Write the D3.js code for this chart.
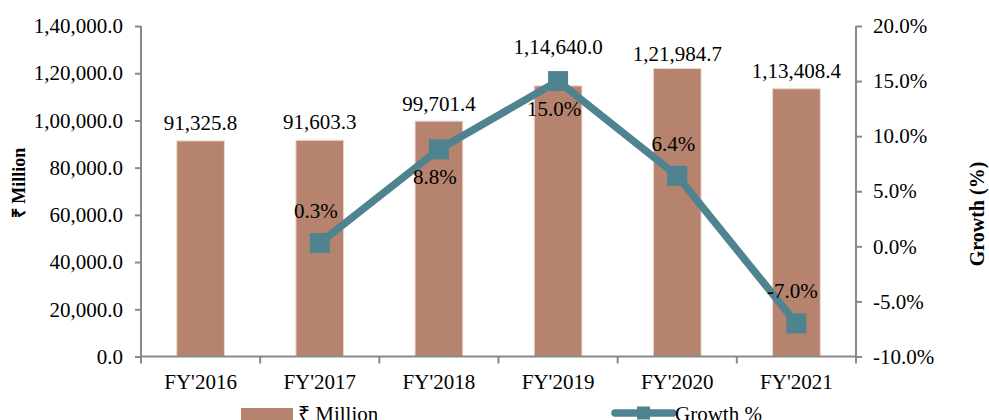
<!DOCTYPE html>
<html>
<head>
    <meta charset="utf-8" />
    <title>Revenue and Growth</title>
    <style>
        html, body {
            margin: 0;
            padding: 0;
            background: #fff;
        }
        svg text {
            font-family: "Liberation Serif", "Times New Roman", serif;
            fill: #000;
        }
    </style>
</head>
<body>
    <svg width="989" height="420"></svg>
    <script src="https://d3js.org/d3.v7.min.js"></script>
    <script>
        // data
        var years = ["FY'2016", "FY'2017", "FY'2018", "FY'2019", "FY'2020", "FY'2021"];
        var millions = [91325.8, 91603.3, 99701.4, 114640.0, 121984.7, 113408.4];
        var growth = [null, 0.3, 8.8, 15.0, 6.4, -7.0];
        var leftTicks = [0, 20000, 40000, 60000, 80000, 100000, 120000, 140000];
        var rightTicks = [-10, -5, 0, 5, 10, 15, 20];

        // label placement (px gap above bar top, side of growth marker)
        var barLabelGap = [11, 11, 10, 32, 8, 11];
        var growthLabelSide = ["", "above", "below", "below", "above", "above"];

        var barColor = "#b5836e",
            lineColor = "#4f8390",
            axisColor = "#898989";

        var svg = d3.select("svg");

        var x = d3.scaleBand().domain(years).range([141, 856]);
        var yLeft = d3.scaleLinear().domain([0, 140000]).range([356.5, 26]);
        var yRight = d3.scaleLinear().domain([-10, 20]).range([356.5, 26]);

        // indian style grouping: 1,40,000.0
        function inr(v) {
            var s = v.toFixed(1), parts = s.split("."), n = parts[0];
            if (n.length > 3) {
                var last = n.slice(-3), rest = n.slice(0, -3);
                rest = rest.replace(/\B(?=(\d{2})+(?!\d))/g, ",");
                n = rest + "," + last;
            }
            return n + "." + parts[1];
        }

        // bars
        var bw = x.bandwidth() * 0.4;
        svg.append("g").selectAll("rect")
            .data(millions)
            .enter().append("rect")
            .attr("x", function (d, i) { return x(years[i]) + (x.bandwidth() - bw) / 2; })
            .attr("y", function (d) { return yLeft(d); })
            .attr("width", bw)
            .attr("height", function (d) { return yLeft(0) - yLeft(d); })
            .attr("fill", barColor)
            .attr("stroke", "#ecd6cd")
            .attr("stroke-width", 1);

        svg.append("g").selectAll("text")
            .data(millions)
            .enter().append("text")
            .attr("x", function (d, i) { return x(years[i]) + x.bandwidth() / 2; })
            .attr("y", function (d, i) { return yLeft(d) - barLabelGap[i]; })
            .attr("text-anchor", "middle")
            .style("font-size", "21px")
            .text(function (d) { return inr(d); });

        // axes
        var leftAxis = d3.axisLeft(yLeft).tickValues(leftTicks).tickSize(6).tickPadding(12)
            .tickFormat(inr);
        var gl = svg.append("g").attr("transform", "translate(141,0)").call(leftAxis);

        var rightAxis = d3.axisRight(yRight).tickValues(rightTicks).tickSize(6).tickPadding(11)
            .tickFormat(function (d) { return d.toFixed(1) + "%"; });
        var gr = svg.append("g").attr("transform", "translate(856,0)").call(rightAxis);

        var bottomAxis = d3.axisBottom(x).tickSize(0).tickPadding(18);
        var gb = svg.append("g").attr("transform", "translate(0,356.5)").call(bottomAxis);

        // category separators on the bottom axis
        gb.selectAll(".sep")
            .data(years.concat([null]))
            .enter().append("line")
            .attr("class", "sep")
            .attr("x1", function (d) { return d ? x(d) : x.range()[1]; })
            .attr("x2", function (d) { return d ? x(d) : x.range()[1]; })
            .attr("y1", 0).attr("y2", 7)
            .attr("stroke", axisColor).attr("stroke-width", 2);

        [gl, gr, gb].forEach(function (g) {
            g.selectAll(".domain").attr("stroke", axisColor).attr("stroke-width", 2);
            g.selectAll(".tick line").attr("stroke", axisColor).attr("stroke-width", 2);
            g.selectAll("text")
                .style("font-family", "'Liberation Serif', 'Times New Roman', serif")
                .style("font-size", "21px")
                .attr("fill", "#000");
        });
        gl.select(".domain").attr("d", "M0," + yLeft.range()[1] + "V" + yLeft.range()[0]);
        gr.select(".domain").attr("d", "M0," + yRight.range()[1] + "V" + yRight.range()[0]);
        gb.select(".domain").attr("d", "M" + x.range()[0] + ",0H" + x.range()[1]);

        // axis titles
        svg.append("text")
            .attr("transform", "translate(25,183) rotate(-90)")
            .attr("text-anchor", "middle")
            .style("font-size", "18px")
            .style("font-weight", "bold")
            .text("₹ Million");

        svg.append("text")
            .attr("transform", "translate(984,214) rotate(-90)")
            .attr("text-anchor", "middle")
            .style("font-size", "20px")
            .style("font-weight", "bold")
            .text("Growth (%)");

        // growth line
        var pts = growth.map(function (g, i) { return { year: years[i], g: g, side: growthLabelSide[i] }; })
            .filter(function (d) { return d.g !== null; });

        var line = d3.line()
            .x(function (d) { return x(d.year) + x.bandwidth() / 2; })
            .y(function (d) { return yRight(d.g); });

        svg.append("path")
            .datum(pts)
            .attr("d", line)
            .attr("fill", "none")
            .attr("stroke", lineColor)
            .attr("stroke-width", 7.5)
            .attr("stroke-linejoin", "round");

        svg.append("g").selectAll("rect")
            .data(pts)
            .enter().append("rect")
            .attr("x", function (d) { return x(d.year) + x.bandwidth() / 2 - 10; })
            .attr("y", function (d) { return yRight(d.g) - 10; })
            .attr("width", 20)
            .attr("height", 20)
            .attr("fill", lineColor);

        svg.append("g").selectAll("text")
            .data(pts)
            .enter().append("text")
            .attr("x", function (d) { return x(d.year) + x.bandwidth() / 2 - 4; })
            .attr("y", function (d) { return yRight(d.g) + (d.side === "above" ? -25 : 35); })
            .attr("text-anchor", "middle")
            .style("font-size", "21px")
            .text(function (d) { return d.g.toFixed(1) + "%"; });

        // legend
        var lg = svg.append("g");
        lg.append("rect")
            .attr("x", 241).attr("y", 408).attr("width", 52).attr("height", 13)
            .attr("fill", barColor);
        lg.append("text")
            .attr("x", 298).attr("y", 421)
            .style("font-size", "21px")
            .text("₹ Million");

        lg.append("line")
            .attr("x1", 615).attr("x2", 673).attr("y1", 413).attr("y2", 413)
            .attr("stroke", lineColor).attr("stroke-width", 7.5)
            .attr("stroke-linecap", "round");
        lg.append("rect")
            .attr("x", 637).attr("y", 406.5).attr("width", 13).attr("height", 13)
            .attr("fill", lineColor);
        lg.append("text")
            .attr("x", 675).attr("y", 421)
            .style("font-size", "21px")
            .text("Growth %");
    </script>
</body>
</html>
